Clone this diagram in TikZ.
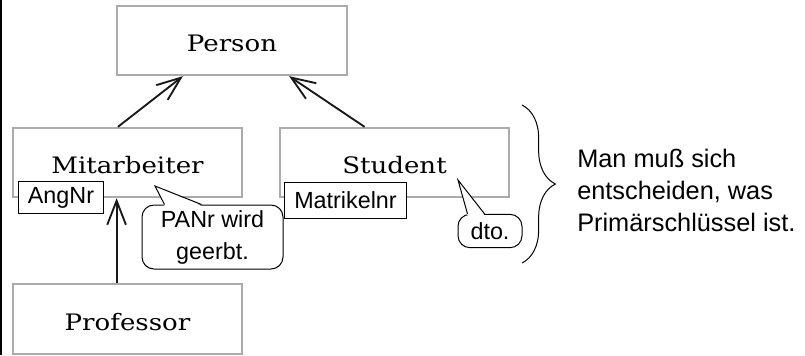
\documentclass[tikz,border=0pt]{standalone}
\usepackage{fontspec}
\newfontfamily\classfont[FakeStretch=1.15]{DejaVu Serif}
\newfontfamily\notefont{Liberation Sans}
\usetikzlibrary{arrows.meta,calc,decorations.pathreplacing}
\tikzset{%
	block/.style    = {draw=black!33, line width=1.5pt, rectangle, minimum width=172pt,
		minimum height=52pt, text height=17pt, text depth=0pt,
		font=\classfont\fontsize{17pt}{20pt}\selectfont}, % Class
	attr/.style     = {draw, line width=0.75pt, fill=white, rectangle, inner xsep=7pt,
		inner ysep=0pt, minimum height=24pt, font=\notefont\fontsize{17.5pt}{20pt}\selectfont}, % Key
	bubble/.style   = {draw, line width=0.75pt, fill=white, rounded corners=9pt, inner sep=0pt,
		align=center, font=\notefont\fontsize{17.5pt}{24pt}\selectfont}, % Comment
	note/.style     = {align=left, inner sep=0pt, font=\notefont\fontsize{19pt}{24pt}\selectfont},
	isa/.style      = {line width=1.4pt, draw=black!90, -{Straight Barb[length=18pt,width=14pt]}}
}

\begin{document}
\begin{tikzpicture}[x=0.75pt,y=-0.75pt]
			\useasboundingbox (0,0) rectangle (805,355);
			\draw[line width=1.2pt] (1,0) -- (1,355);

			\node[block] (person) at (232,40.5) {Person} ;
			\node[block] (mit) at (127.5,162.5) {Mitarbeiter} ;
			\node[block] (stud) at (394.5,162.5) {Student} ;
			\node[block] (prof) at (127.5,319) {Professor} ;

			\draw[isa] (mit.105) -- (person.216);
			\draw[isa] (stud.130) -- (person.328);
			\draw[isa] (prof.107) -- (mit.253);

			\node[attr] (angnr) at (61,197.5) {AngNr} ;
			\node[attr, minimum height=27pt] (matnr) at (345.5,200) {Matrikelnr} ;

			\node[bubble, minimum width=105.75pt, minimum height=48pt] (panr) at (212.5,237) {PANr wird\\geerbt.} ;
			\coordinate (panrtip) at (155,186);
			\fill[white] ($(panr.north west)+(23,1.5)$) -- (panrtip) -- ($(panr.north west)+(60,1.5)$) -- cycle;
			\draw[line width=0.75pt] ($(panr.north west)+(23,0)$) -- (panrtip) -- ($(panr.north west)+(60,0)$);

			\node[bubble, minimum width=48pt, minimum height=25pt] (dto) at (490,231) {dto.} ;
			\coordinate (dtotip) at (458,180);
			\fill[white] ($(dto.north west)+(10,1.5)$) -- (dtotip) -- ($(dto.north west)+(27,1.5)$) -- cycle;
			\draw[line width=0.75pt] ($(dto.north west)+(10,0)$) -- (dtotip) -- ($(dto.north west)+(27,0)$);

			\draw[line width=0.75pt, decorate, decoration={brace, amplitude=25pt}] (522,105) -- (522,263);
			\node[note, anchor=west] (remark) at (577,190) {Man muß sich\\entscheiden, was\\Primärschlüssel ist.} ;
		\end{tikzpicture}
\end{document}
